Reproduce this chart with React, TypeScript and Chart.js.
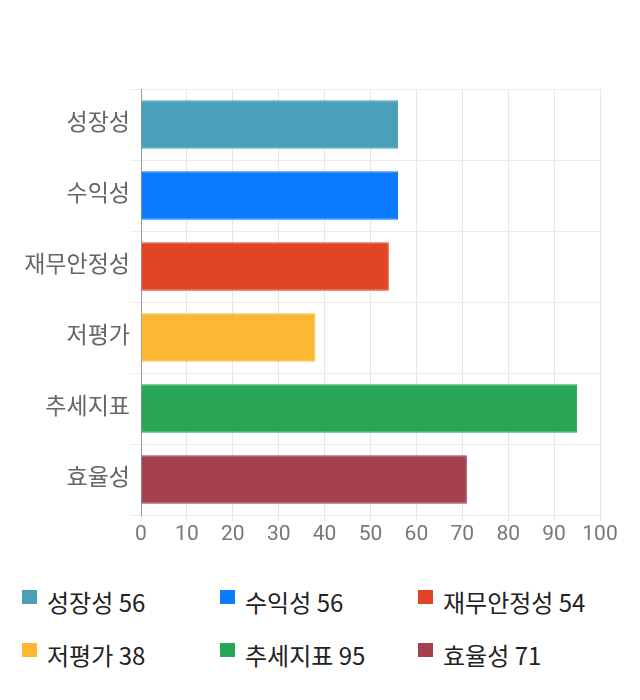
import React, { useEffect, useRef } from 'react';
import { Chart, registerables } from 'chart.js';

Chart.register(...registerables);

// Categories and scores
const categories = ['성장성', '수익성', '재무안정성', '저평가', '추세지표', '효율성'];
const scores = [56, 56, 54, 38, 95, 71];
const barColors = ['#4aa0b9', '#0b7bff', '#e24426', '#fdb833', '#28a655', '#a6404f'];
const xTicks = [0, 10, 20, 30, 40, 50, 60, 70, 80, 90, 100];

const FONT = "Roboto, 'Noto Sans CJK KR', sans-serif";

const App: React.FC = () => {
  const chartRef = useRef<HTMLCanvasElement | null>(null);
  const chartInstance = useRef<Chart | null>(null);

  useEffect(() => {
    document.body.style.margin = '0';
    if (!chartRef.current) return;
    const ctx = chartRef.current.getContext('2d');
    if (!ctx) return;

    chartInstance.current = new Chart(ctx, {
      type: 'bar',
      data: {
        labels: categories,
        datasets: [
          {
            data: scores,
            backgroundColor: barColors,
            borderColor: barColors,
            borderWidth: 1,
            barPercentage: 0.68,
            categoryPercentage: 1,
          },
        ],
      },
      options: {
        indexAxis: 'y',
        responsive: true,
        maintainAspectRatio: false,
        animation: false,
        plugins: {
          legend: { display: false },
          tooltip: { enabled: false },
        },
        layout: {
          padding: { top: 89, right: 40, left: 0, bottom: 0 },
        },
        scales: {
          x: {
            min: 0,
            max: 100,
            afterBuildTicks: (scale: any) => {
              scale.ticks = xTicks.map(v => ({ value: v }));
            },
            afterFit: (scale: any) => {
              scale.height = 45;
            },
            grid: { color: '#e6e6e6', tickLength: 6 },
            border: { display: false },
            ticks: {
              color: '#777',
              font: { family: FONT, size: 21 },
              padding: 1,
            },
          },
          y: {
            afterFit: (scale: any) => {
              scale.width = 141;
            },
            grid: { color: '#ebebeb', offset: true, tickLength: 11 },
            border: { color: '#999' },
            ticks: {
              color: '#666',
              font: { family: FONT, size: 23 },
              padding: 0,
            },
          },
        },
      },
    });

    return () => {
      if (chartInstance.current) {
        chartInstance.current.destroy();
        chartInstance.current = null;
      }
    };
  }, []);

  return (
    <div style={{ width: 640, height: 700, position: 'relative', background: '#fff', fontFamily: FONT }}>
      <div style={{ position: 'absolute', left: 0, top: 0, width: 640, height: 560 }}>
        <canvas ref={chartRef} />
      </div>
      <div style={{ position: 'absolute', left: 22, top: 587, width: 618, display: 'flex', flexWrap: 'wrap' }}>
        {categories.map((c, i) => (
          <div key={c} style={{ width: 198, height: 53, display: 'flex', alignItems: 'flex-start' }}>
            <span style={{ display: 'inline-block', width: 15, height: 14, marginTop: 3, background: barColors[i] }} />
            <span style={{ marginLeft: 10, fontSize: 24, lineHeight: '30px', color: '#222', fontFamily: "'Noto Sans CJK KR', sans-serif" }}>
              {c} {scores[i]}
            </span>
          </div>
        ))}
      </div>
    </div>
  );
};

export default App;
